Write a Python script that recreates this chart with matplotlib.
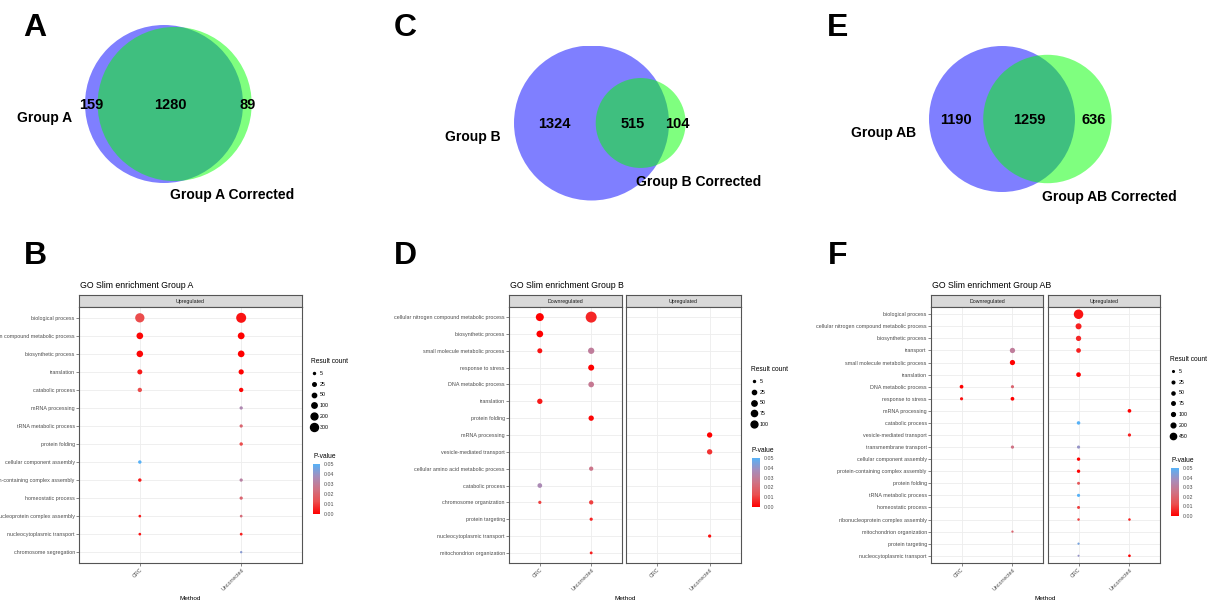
import numpy as np
import matplotlib
matplotlib.use("Agg")
import matplotlib.pyplot as plt
from matplotlib.patches import Circle
from matplotlib.lines import Line2D
from matplotlib.colors import LinearSegmentedColormap, Normalize
from matplotlib.cm import ScalarMappable

plt.rcParams["font.family"] = ["Liberation Sans", "DejaVu Sans"]

# === VENN COUNTS ===
venn_a = (159, 1280, 89)
venn_b = (1324, 515, 104)
venn_ab = (1190, 1259, 636)

# === GO SLIM DATA (None = no dot) ===
N = None
methods = ["CRC", "Uncorrected"]

a_terms = ["biological process", "cellular nitrogen compound metabolic process",
           "biosynthetic process", "translation", "catabolic process", "mRNA processing",
           "tRNA metabolic process", "protein folding", "cellular component assembly",
           "protein-containing complex assembly", "homeostatic process",
           "ribonucleoprotein complex assembly", "nucleocytoplasmic transport",
           "chromosome segregation"]
a_up_crc_n = [440, 185, 175, 80, 50, N, N, N, 22, 22, N, 9, 9, N]
a_up_crc_p = [0.012, 0.001, 0.001, 0.004, 0.012, N, N, N, 0.05, 0.004, N, 0.004, 0.003, N]
a_up_unc_n = [530, 195, 185, 90, 50, 19, 18, 22, N, 18, 18, 9, 10, 6]
a_up_unc_p = [0.003, 0.0, 0.0, 0.0, 0.001, 0.035, 0.02, 0.012, N, 0.032, 0.02, 0.022, 0.005, 0.042]
a_breaks = [5, 25, 50, 100, 200, 300]

b_terms = ["cellular nitrogen compound metabolic process", "biosynthetic process",
           "small molecule metabolic process", "response to stress", "DNA metabolic process",
           "translation", "protein folding", "mRNA processing", "vesicle-mediated transport",
           "cellular amino acid metabolic process", "catabolic process",
           "chromosome organization", "protein targeting", "nucleocytoplasmic transport",
           "mitochondrion organization"]
b_down_crc_n = [150, 94, 41, N, N, 50, N, N, N, N, 34, 11, N, N, N]
b_down_crc_p = [0.0, 0.0, 0.003, N, N, 0.004, N, N, N, N, 0.036, 0.01, N, N, N]
b_down_unc_n = [330, N, 79, 69, 60, N, 50, N, N, 26, N, 26, 11, N, 8]
b_down_unc_p = [0.006, N, 0.03, 0.0, 0.028, N, 0.001, N, N, 0.026, N, 0.01, 0.006, N, 0.005]
b_up_crc_n = [N] * 15
b_up_crc_p = [N] * 15
b_up_unc_n = [N, N, N, N, N, N, N, 50, 50, N, N, N, N, 11, N]
b_up_unc_p = [N, N, N, N, N, N, N, 0.0, 0.008, N, N, N, N, 0.002, N]
b_breaks = [5, 25, 50, 75, 100]

ab_terms = ["biological process", "cellular nitrogen compound metabolic process",
            "biosynthetic process", "transport", "small molecule metabolic process",
            "translation", "DNA metabolic process", "response to stress", "mRNA processing",
            "catabolic process", "vesicle-mediated transport", "transmembrane transport",
            "cellular component assembly", "protein-containing complex assembly",
            "protein folding", "tRNA metabolic process", "homeostatic process",
            "ribonucleoprotein complex assembly", "mitochondrion organization",
            "protein targeting", "nucleocytoplasmic transport"]
ab_down_crc_n = [N, N, N, N, N, N, 95, 50, N, N, N, N, N, N, N, N, N, N, N, N, N]
ab_down_crc_p = [N, N, N, N, N, N, 0.0, 0.003, N, N, N, N, N, N, N, N, N, N, N, N, N]
ab_down_unc_n = [N, N, N, 280, 270, N, 50, 95, N, N, N, 55, N, N, N, N, N, N, 12, N, N]
ab_down_unc_p = [N, N, N, 0.03, 0.0, N, 0.02, 0.0, N, N, N, 0.025, N, N, N, N, N, N, 0.02, N, N]
ab_up_crc_n = [1300, 400, 280, 195, N, 195, N, N, N, 75, N, 50, 65, 65, 40, 50, 40, 20, N, 12, 8]
ab_up_crc_p = [0.003, 0.005, 0.006, 0.005, N, 0.0, N, N, N, 0.05, N, 0.04, 0.0, 0.0,
               0.015, 0.05, 0.01, 0.01, N, 0.045, 0.04]
ab_up_unc_n = [N, N, N, N, N, N, N, N, 90, N, 55, N, N, N, N, N, N, 20, N, N, 25]
ab_up_unc_p = [N, N, N, N, N, N, N, N, 0.0, N, 0.005, N, N, N, N, N, N, 0.005, N, N, 0.0]
ab_breaks = [5, 25, 50, 75, 100, 200, 450]

W, H = 1219, 604
fig = plt.figure(figsize=(W / 100, H / 100), dpi=100)
fig.patch.set_facecolor("white")


def box(x0, y0, x1, y1):
    return [x0 / W, 1 - y1 / H, (x1 - x0) / W, (y1 - y0) / H]


def ftext(x, y, s, **kw):
    fig.text(x / W, 1 - y / H, s, **kw)


cmap = LinearSegmentedColormap.from_list(
    "pv", ["#FF0000", "#EA5050", "#CF7385", "#A68DBB", "#56B1F7"])
norm = Normalize(0, 0.05)


# === VENN ===
def lens(r1, r2, d):
    if d >= r1 + r2:
        return 0.0
    if d <= abs(r1 - r2):
        return np.pi * min(r1, r2) ** 2
    a1 = r1 ** 2 * np.arccos((d * d + r1 * r1 - r2 * r2) / (2 * d * r1))
    a2 = r2 ** 2 * np.arccos((d * d + r2 * r2 - r1 * r1) / (2 * d * r2))
    k = 0.5 * np.sqrt((-d + r1 + r2) * (d + r1 - r2) * (d - r1 + r2) * (d + r1 + r2))
    return a1 + a2 - k


def venn(counts, name1, name2, left, cy, diam):
    only1, both, only2 = counts
    r1 = np.sqrt((only1 + both) / np.pi)
    r2 = np.sqrt((only2 + both) / np.pi)
    lo, hi = abs(r1 - r2), r1 + r2
    for _ in range(80):
        mid = (lo + hi) / 2
        if lens(r1, r2, mid) > both:
            lo = mid
        else:
            hi = mid
    d = (lo + hi) / 2
    sc = diam / (2 * r1)
    xmin, xmax = -r1, max(r1, d + r2)
    ym = max(r1, r2)
    ax = fig.add_axes(box(left, cy - ym * sc, left + (xmax - xmin) * sc, cy + ym * sc))
    ax.set_xlim(xmin, xmax)
    ax.set_ylim(-ym, ym)
    ax.axis("off")
    ax.add_patch(Circle((0, 0), r1, fc="blue", alpha=0.5, lw=0))
    ax.add_patch(Circle((d, 0), r2, fc="#00FF00", alpha=0.5, lw=0))
    kw = dict(fontsize=10.5, fontweight="bold", ha="center", va="center")
    ty = -1.0 / sc
    ax.text((-r1 + d - r2) / 2, ty, str(only1), **kw)
    ax.text((d - r2 + r1) / 2, ty, str(both), **kw)
    ax.text((r1 + d + r2) / 2, ty, str(only2), **kw)
    ax.text(-r1 - 13 / sc, -14 / sc, name1, fontsize=10, fontweight="bold",
            ha="right", va="center", clip_on=False)
    ax.text(d - 5 / sc, -r2 - 14 / sc, name2, fontsize=10, fontweight="bold",
            ha="left", va="center", clip_on=False)


venn(venn_a, "Group A", "Group A Corrected", 85, 104, 158)
venn(venn_b, "Group B", "Group B Corrected", 514, 123, 155)
venn(venn_ab, "Group AB", "Group AB Corrected", 929, 119, 146)

for lab, x, y in [("A", 35, 28), ("C", 405, 28), ("E", 838, 28),
                  ("B", 35, 256), ("D", 405, 256), ("F", 838, 256)]:
    ftext(x, y, lab, fontsize=23, fontweight="bold", ha="center", va="center")


# === DOT PLOTS ===
def dot_panel(title, terms, facets, vmax, dlo, dhi, breaks, leg_xy, cb_box, pv_y):
    def diam(v):
        return dlo + (dhi - dlo) * np.sqrt(max(v - 5, 0) / (vmax - 5))

    n = len(terms)
    first = True
    for fname, (x0, x1), cols in facets:
        sax = fig.add_axes(box(x0, 295, x1, 307))
        sax.set_facecolor("#D9D9D9")
        sax.set_xticks([])
        sax.set_yticks([])
        for sp in sax.spines.values():
            sp.set_color("#555555")
            sp.set_linewidth(0.8)
        sax.text(0.5, 0.5, fname, transform=sax.transAxes, ha="center", va="center",
                 fontsize=3.8, color="#1A1A1A")

        ax = fig.add_axes(box(x0, 307, x1, 563))
        for j, (cn, cp) in enumerate(cols):
            idx = [i for i in range(n) if cn[i] is not None]
            if not idx:
                continue
            ax.scatter([j] * len(idx), idx,
                       s=[(0.72 * diam(cn[i])) ** 2 for i in idx],
                       c=[cp[i] for i in idx], cmap=cmap, norm=norm,
                       edgecolors="none", zorder=3)
        ax.set_xlim(-0.6, 1.6)
        ax.set_ylim(n - 0.4, -0.6)
        ax.set_xticks([0, 1])
        ax.set_xticklabels(methods, rotation=45, ha="right", rotation_mode="anchor")
        ax.set_yticks(range(n))
        ax.set_yticklabels(terms if first else [])
        ax.grid(color="#EDEDED", lw=0.6)
        ax.set_axisbelow(True)
        ax.tick_params(length=2, width=0.5, color="#555555", labelsize=3.9,
                       labelcolor="#4D4D4D", pad=1)
        if not first:
            ax.tick_params(axis="y", length=0)
        for sp in ax.spines.values():
            sp.set_color("#555555")
            sp.set_linewidth(0.8)
        first = False

    xl = facets[0][1][0]
    xr = facets[-1][1][1]
    ftext(xl + 1, 286, title, fontsize=6.3, va="center")
    ftext((xl + xr) / 2, 598, "Method", fontsize=4.6, ha="center", va="center")

    handles = [Line2D([], [], marker="o", ls="", color="black", markersize=0.72 * diam(b))
               for b in breaks]
    fig.legend(handles, [str(b) for b in breaks], title="Result count", loc="upper left",
               bbox_to_anchor=(leg_xy[0] / W, 1 - leg_xy[1] / H), frameon=False,
               fontsize=3.8, title_fontsize=4.8, alignment="left", handletextpad=0.4,
               labelspacing=1.1, borderpad=0, handlelength=1.2, borderaxespad=0)

    ftext(cb_box[0], pv_y, "P-value", fontsize=4.8, va="center")
    cax = fig.add_axes(box(*cb_box))
    cb = fig.colorbar(ScalarMappable(norm=norm, cmap=cmap), cax=cax,
                      ticks=[0, 0.01, 0.02, 0.03, 0.04, 0.05])
    cb.ax.set_yticklabels(["0.00", "0.01", "0.02", "0.03", "0.04", "0.05"])
    cb.outline.set_visible(False)
    cb.ax.tick_params(labelsize=3.8, length=1.5, color="white", pad=1.5,
                      labelcolor="#4D4D4D")


dot_panel("GO Slim enrichment Group A", a_terms,
          [("Upregulated", (79, 302), [(a_up_crc_n, a_up_crc_p), (a_up_unc_n, a_up_unc_p)])],
          max(v for v in a_up_crc_n + a_up_unc_n if v), 2.0, 10.0, a_breaks,
          (311, 358), (313, 464, 320, 514), 457)

dot_panel("GO Slim enrichment Group B", b_terms,
          [("Downregulated", (509, 622), [(b_down_crc_n, b_down_crc_p), (b_down_unc_n, b_down_unc_p)]),
           ("Upregulated", (626, 741), [(b_up_crc_n, b_up_crc_p), (b_up_unc_n, b_up_unc_p)])],
          max(v for v in b_down_crc_n + b_down_unc_n + b_up_unc_n if v), 2.0, 11.0, b_breaks,
          (751, 366), (752, 458, 760, 507), 450)

dot_panel("GO Slim enrichment Group AB", ab_terms,
          [("Downregulated", (931, 1043), [(ab_down_crc_n, ab_down_crc_p), (ab_down_unc_n, ab_down_unc_p)]),
           ("Upregulated", (1048, 1160), [(ab_up_crc_n, ab_up_crc_p), (ab_up_unc_n, ab_up_unc_p)])],
          max(v for v in ab_down_crc_n + ab_down_unc_n + ab_up_crc_n + ab_up_unc_n if v),
          1.7, 9.5, ab_breaks,
          (1170, 356), (1171, 468, 1179, 516), 460)

fig.savefig("out.png", dpi=100)
